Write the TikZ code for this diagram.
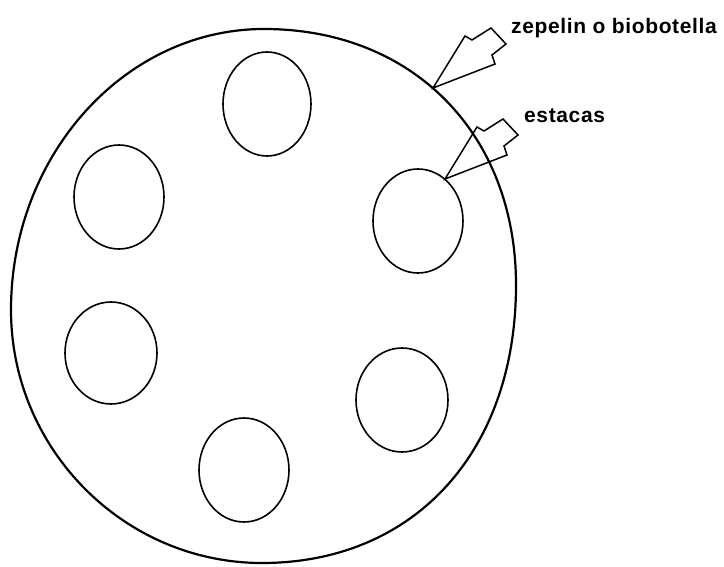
\documentclass[tikz,border=0pt]{standalone}
\usepackage{fontspec}
\setmainfont{Liberation Sans}
\newfontfamily\rotulofont[LetterSpace=3]{Liberation Sans}
\tikzset{
  borde/.style={line width=2.2pt},
  estaca/.style={line width=1.6pt},
  flecha/.style={line width=1.5pt, line join=miter},
  rotulo/.style={anchor=base west, inner sep=0pt, font=\rotulofont\bfseries\fontsize{21}{25}\selectfont}
}
\begin{document}
\begin{tikzpicture}[x=1pt, y=-1pt]
  \useasboundingbox (0,0) rectangle (724,567);
  % zepelin
  \draw[borde] (264,29) .. controls (413,29) and (516,134) .. (516,285)
    .. controls (516,452) and (414,563) .. (262,563)
    .. controls (124,563) and (11,449) .. (11,310)
    .. controls (11,155) and (125,29) .. cycle;
  % estacas
  \draw[estaca] (267,104) ellipse [x radius=44, y radius=52];
  \draw[estaca] (119,197) ellipse [x radius=45, y radius=52];
  \draw[estaca] (418,221) ellipse [x radius=45, y radius=52];
  \draw[estaca] (111,353) ellipse [x radius=46, y radius=51];
  \draw[estaca] (402,400) ellipse [x radius=46, y radius=52];
  \draw[estaca] (244,470) ellipse [x radius=45, y radius=52];
  % rotulos
  \node[rotulo] (zep) at (511,34) {zepelin o biobotella};
  \node[rotulo] (est) at (524,123) {estacas};
  \coordinate (zt) at (433,88);
  \coordinate (et) at (445,179);
  \foreach \p in {zt,et}
    \draw[flecha] (\p) -- +(32,-52) -- +(39,-48) -- +(58,-60) -- +(73,-44)
      -- +(59,-33) -- +(62,-24) -- cycle;
\end{tikzpicture}
\end{document}
